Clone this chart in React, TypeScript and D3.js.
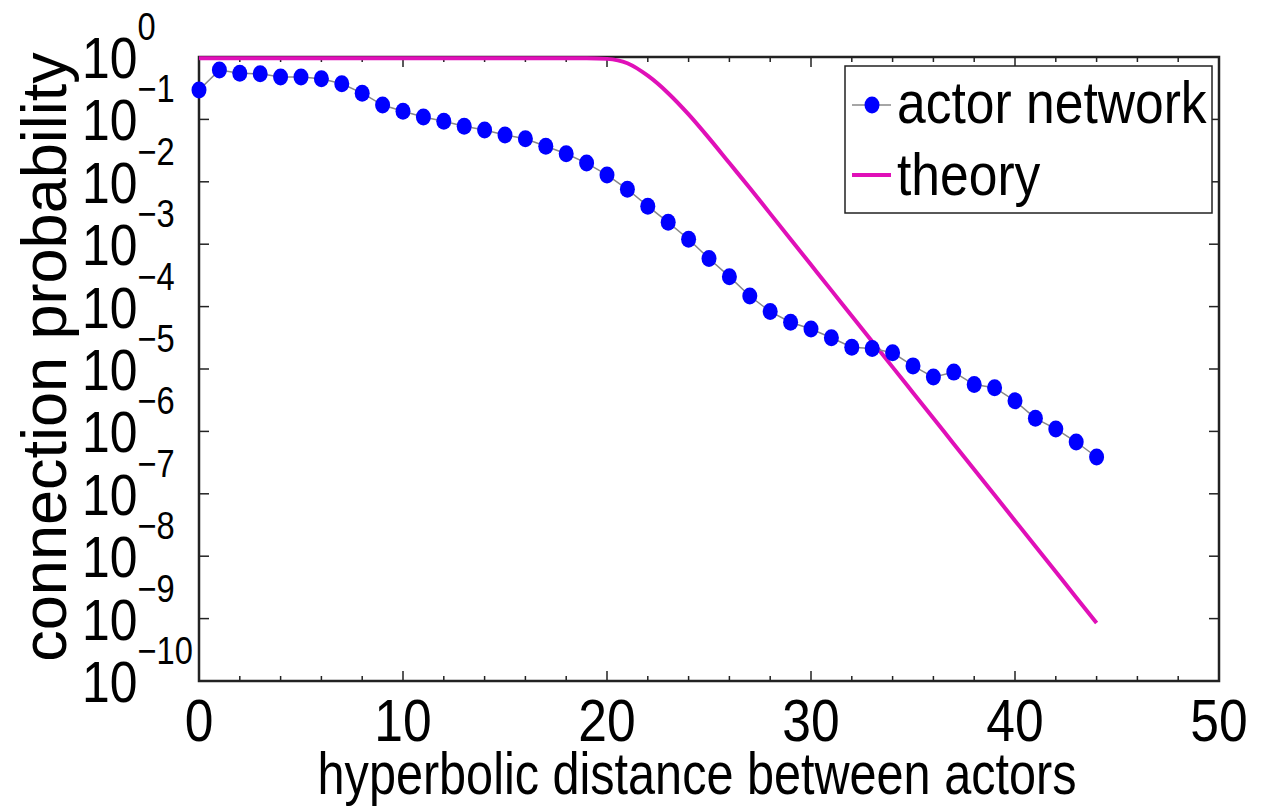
import React, { useEffect, useRef } from 'react';
import * as d3 from 'd3';

// hyperbolic distance (x) for every actor-network point
const distance = [
  0, 1, 2, 3, 4, 5, 6, 7, 8, 9, 10, 11, 12, 13, 14, 15, 16, 17, 18, 19, 20, 21, 22,
  23, 24, 25, 26, 27, 28, 29, 30, 31, 32, 33, 34, 35, 36, 37, 38, 39, 40, 41, 42, 43, 44
];

// log10 of connection probability
const actorLog10 = [
  -0.53, -0.21, -0.26, -0.27, -0.32, -0.32, -0.35, -0.43, -0.58, -0.77, -0.87, -0.96,
  -1.03, -1.11, -1.17, -1.25, -1.31, -1.43, -1.55, -1.70, -1.89, -2.12, -2.39, -2.65,
  -2.92, -3.23, -3.52, -3.83, -4.08, -4.25, -4.36, -4.50, -4.65, -4.67, -4.74, -4.95,
  -5.13, -5.05, -5.25, -5.30, -5.51, -5.79, -5.96, -6.17, -6.41
];

const theoryLog10 = [
  -0.02, -0.02, -0.02, -0.02, -0.02, -0.02, -0.02, -0.02, -0.02, -0.02, -0.02, -0.02,
  -0.02, -0.02, -0.02, -0.02, -0.02, -0.02, -0.02, -0.02, -0.03, -0.10, -0.30, -0.58,
  -0.92, -1.30, -1.70, -2.10, -2.51, -2.92, -3.33, -3.74, -4.15, -4.56, -4.97, -5.38,
  -5.79, -6.20, -6.61, -7.02, -7.43, -7.84, -8.25, -8.66, -9.07
];

const xTickValues = [0, 10, 20, 30, 40, 50];
const yTickExponents = [0, -1, -2, -3, -4, -5, -6, -7, -8, -9, -10];
const seriesNames = ['actor network', 'theory'];

const FONT = '"Liberation Sans", Arial, Helvetica, sans-serif';
const SQUISH = 0.86;

const App = () => {
  const svgRef = useRef<SVGSVGElement>(null);

  useEffect(() => {
    const left = 199, right = 1219, top = 57, bottom = 681;

    const svg = d3.select(svgRef.current);
    svg.selectAll('*').remove();

    const x = d3.scaleLinear().domain([0, 50]).range([left, right]);
    const y = d3.scaleLog().domain([1e-10, 1]).range([bottom, top]);

    const tickColor = '#222';

    // x ticks (bottom + top, pointing inward)
    const xMinor = d3.range(0, 51, 2).filter(v => v % 10 !== 0);
    const xt = svg.append('g').attr('stroke', tickColor).attr('stroke-width', 1.5);
    [...xTickValues.map(v => [v, 10]), ...xMinor.map(v => [v, 5])].forEach(([v, len]) => {
      xt.append('line').attr('x1', x(v)).attr('x2', x(v)).attr('y1', bottom).attr('y2', bottom - len);
      xt.append('line').attr('x1', x(v)).attr('x2', x(v)).attr('y1', top).attr('y2', top + len);
    });

    // y ticks (left + right)
    const yt = svg.append('g').attr('stroke', tickColor).attr('stroke-width', 1.5);
    y.ticks().forEach(v => {
      const e = Math.log10(v);
      const major = Math.abs(e - Math.round(e)) < 1e-9;
      const len = major ? 10 : 5;
      yt.append('line').attr('x1', left).attr('x2', left + len).attr('y1', y(v)).attr('y2', y(v));
      yt.append('line').attr('x1', right).attr('x2', right - len).attr('y1', y(v)).attr('y2', y(v));
    });

    // frame
    svg.append('rect')
      .attr('x', left).attr('y', top)
      .attr('width', right - left).attr('height', bottom - top)
      .attr('fill', 'none').attr('stroke', tickColor).attr('stroke-width', 2.5);

    // theory line
    const theoryLine = d3.line<number>()
      .x((_, i) => x(distance[i]))
      .y(d => y(Math.pow(10, d)))
      .curve(d3.curveMonotoneX);
    svg.append('path')
      .datum(theoryLog10)
      .attr('d', theoryLine)
      .attr('fill', 'none')
      .attr('stroke', '#e010b8')
      .attr('stroke-width', 4);

    // actor network: thin gray line + blue dots
    const actorLine = d3.line<number>()
      .x((_, i) => x(distance[i]))
      .y(d => y(Math.pow(10, d)));
    svg.append('path')
      .datum(actorLog10)
      .attr('d', actorLine)
      .attr('fill', 'none')
      .attr('stroke', '#888')
      .attr('stroke-width', 1.5);
    svg.append('g')
      .selectAll('ellipse')
      .data(actorLog10)
      .enter()
      .append('ellipse')
      .attr('cx', (_, i) => x(distance[i]))
      .attr('cy', d => y(Math.pow(10, d)))
      .attr('rx', 7.5)
      .attr('ry', 8.5)
      .attr('fill', '#0000ff');

    // x tick labels
    xTickValues.forEach(v => {
      svg.append('text')
        .attr('transform', `translate(${x(v)}, 741) scale(${SQUISH}, 1)`)
        .attr('text-anchor', 'middle')
        .style('font-family', FONT)
        .style('font-size', '60px')
        .text(v);
    });

    // y tick labels: 10^e
    yTickExponents.forEach(e => {
      const t = svg.append('text')
        .attr('transform', `translate(82, ${y(Math.pow(10, e)) + 21}) scale(${SQUISH}, 1)`)
        .style('font-family', FONT)
        .style('font-size', '58px');
      t.append('tspan').text('10');
      t.append('tspan')
        .attr('dy', -38)
        .style('font-size', '38px')
        .text(e < 0 ? `\u2212${-e}` : `${e}`);
    });

    // axis labels
    svg.append('text')
      .attr('transform', `translate(697, 794) scale(0.81, 1)`)
      .attr('text-anchor', 'middle')
      .style('font-family', FONT)
      .style('font-size', '60px')
      .text('hyperbolic distance between actors');

    svg.append('text')
      .attr('transform', `translate(66, 357) rotate(-90)`)
      .attr('text-anchor', 'middle')
      .style('font-family', FONT)
      .style('font-size', '63px')
      .text('connection probability');

    // legend
    const lg = svg.append('g');
    lg.append('rect')
      .attr('x', 845).attr('y', 66)
      .attr('width', 367).attr('height', 147)
      .attr('fill', '#fff')
      .attr('stroke', tickColor)
      .attr('stroke-width', 1.5);
    lg.append('line')
      .attr('x1', 852).attr('x2', 891).attr('y1', 105).attr('y2', 105)
      .attr('stroke', '#888').attr('stroke-width', 1.5);
    lg.append('ellipse').attr('cx', 872).attr('cy', 105).attr('rx', 7.5).attr('ry', 8.5).attr('fill', '#0000ff');
    lg.append('line')
      .attr('x1', 852).attr('x2', 891).attr('y1', 175).attr('y2', 175)
      .attr('stroke', '#e010b8').attr('stroke-width', 4);
    [[seriesNames[0], 123], [seriesNames[1], 195]].forEach(([name, by]) => {
      lg.append('text')
        .attr('transform', `translate(897, ${by}) scale(${SQUISH}, 1)`)
        .style('font-family', FONT)
        .style('font-size', '60px')
        .text(name as string);
    });
  }, []);

  return (
    <svg
      ref={svgRef}
      width={1279}
      height={808}
      style={{ position: 'absolute', left: 0, top: 0, background: '#fff' }}
    />
  );
};

export default App;
